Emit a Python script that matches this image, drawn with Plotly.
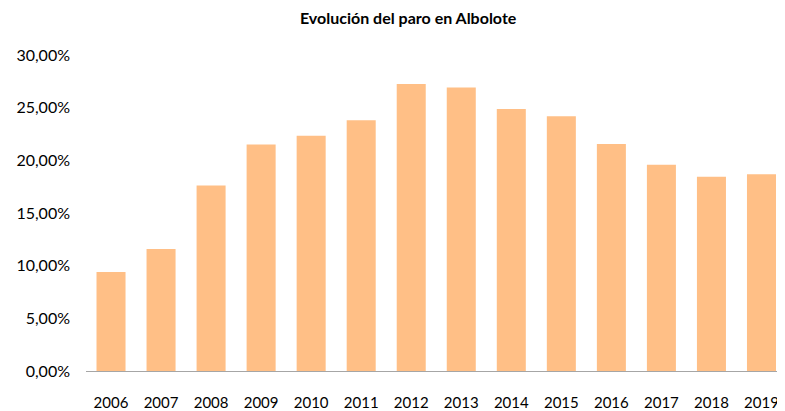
import plotly.graph_objects as go

years = ["2006", "2007", "2008", "2009", "2010", "2011", "2012",
         "2013", "2014", "2015", "2016", "2017", "2018", "2019"]
paro = [0.0941, 0.1158, 0.1761, 0.2151, 0.2233, 0.2381, 0.2724,
        0.2692, 0.2488, 0.2419, 0.2155, 0.1959, 0.1843, 0.1868]

fig = go.Figure(go.Bar(
    x=years, y=paro,
    marker=dict(color="#FFBF86", line=dict(width=0)),
))

fig.update_layout(
    width=777, height=403,
    margin=dict(l=78, r=0, t=47, b=37),
    paper_bgcolor="white", plot_bgcolor="white",
    separators=",.",
    bargap=0.42,
    showlegend=False,
    font=dict(family="Lato", size=16, color="#000000"),
    title=dict(text="<b>Evolución del paro en Albolote</b>", x=0.515, xanchor="center",
               y=0.974, yanchor="middle", font=dict(family="Lato", size=16, color="#000")),
)
fig.update_xaxes(
    type="category", range=[-0.5, 13.47],
    showline=True, linecolor="#A6A6A6", linewidth=1,
    ticks="", showgrid=False, ticklabelstandoff=18,
    tickfont=dict(family="Lato", size=15),
)
fig.update_yaxes(
    range=[0, 0.30], tickvals=[0, 0.05, 0.10, 0.15, 0.20, 0.25, 0.30],
    tickformat=".2%", showgrid=False, zeroline=False, showline=False,
    ticks="", ticklabelstandoff=15,
    tickfont=dict(family="Lato", size=16),
)

fig.write_html("out.html")
